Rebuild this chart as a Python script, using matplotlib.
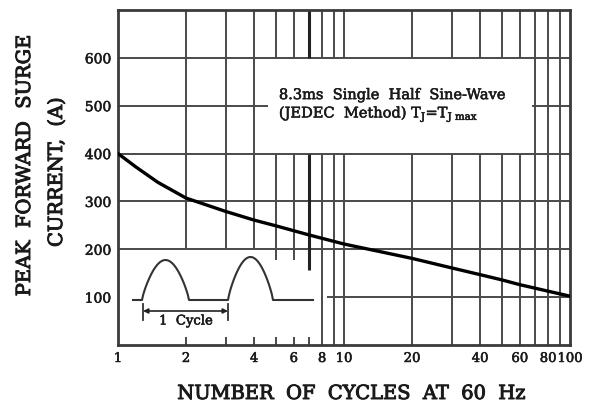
import numpy as np
import matplotlib
matplotlib.use("Agg")
import matplotlib.pyplot as plt
import matplotlib.patheffects as pe

# surge current curve
cycles = [1, 1.2, 1.5, 2, 3, 4, 5, 7, 10, 20, 30, 40, 50, 60, 100]
current = [400, 372, 340, 307, 279, 261, 249, 230, 211, 181, 161, 147, 136, 126, 102]

xtick_vals = [1, 2, 4, 6, 8, 10, 20, 40, 60, 80, 100]
xtick_labels = ["1", "2", "4", "6", "8", "10", "20", "40", "60", "80", "100"]
ytick_vals = [100, 200, 300, 400, 500, 600]

FONT = "DejaVu Serif"
GRID = "#4a4a4a"
INK = "#1a1a1a"
thick = [pe.withStroke(linewidth=0.7, foreground=INK)]

fig = plt.figure(figsize=(6, 4.09), dpi=100)
ax = fig.add_axes([118 / 600, 64 / 409, 452 / 600, 335 / 409])
ax.set_xscale("log")
ax.set_xlim(1, 100)
ax.set_ylim(0, 700)

# horizontal grid (some pieces are cut out by the note and the inset)
ax.hlines([200, 300, 400, 600], 1, 100, color=GRID, lw=1.4, zorder=1)
ax.hlines(500, 1, 4.61, color=GRID, lw=1.4, zorder=1)
ax.hlines(500, 67.9, 100, color=GRID, lw=1.4, zorder=1)
ax.hlines(100, 8.41, 100, color=GRID, lw=1.4, zorder=1)

# vertical grid
ax.vlines([2, 3, 4], 200, 700, color=GRID, lw=1.4, zorder=1)
ax.vlines([2, 3, 4, 5, 6, 7], 0, 17, color=GRID, lw=1.4, zorder=1)
ax.vlines([5, 6], 178, 400, color=GRID, lw=1.4, zorder=1)
ax.vlines([5, 6], 600, 700, color=GRID, lw=1.4, zorder=1)
ax.vlines(7, 157, 400, color="#222222", lw=2.2, zorder=1)
ax.vlines(7, 600, 700, color="#222222", lw=2.2, zorder=1)
gap_lines = [8, 9, 10, 20, 30, 40, 50, 60]
ax.vlines(gap_lines, 0, 400, color=GRID, lw=1.4, zorder=1)
ax.vlines(gap_lines, 600, 700, color=GRID, lw=1.4, zorder=1)
ax.vlines([70, 80, 90], 0, 700, color=GRID, lw=1.4, zorder=1)

# the curve
ax.plot(cycles, current, color="black", lw=2.4, zorder=3)

for s in ax.spines.values():
    s.set_linewidth(2)
    s.set_color("#3a3a3a")

ax.set_xticks(xtick_vals)
ax.set_xticklabels(xtick_labels, fontfamily=FONT, fontsize=9.5, color=INK)
ax.xaxis.set_minor_locator(matplotlib.ticker.NullLocator())
ax.tick_params(axis="x", length=0, pad=5)
ax.set_yticks(ytick_vals)
ax.set_yticklabels([str(v) for v in ytick_vals], fontfamily=FONT, fontsize=10, color=INK)
ax.tick_params(axis="y", length=0, pad=5)
ax.set_yticks([100], minor=True)
ax.tick_params(axis="y", which="minor", length=5, width=1.4, color=GRID)
for lab in ax.get_xticklabels() + ax.get_yticklabels():
    lab.set_path_effects([pe.withStroke(linewidth=0.4, foreground=INK)])

# note text
ax.text(0.356, 0.746, "8.3ms  Single  Half  Sine-Wave", transform=ax.transAxes,
        fontfamily=FONT, fontsize=10.5, va="center", ha="left", color=INK,
        path_effects=[pe.withStroke(linewidth=0.4, foreground=INK)])
ax.text(0.356, 0.690, r"(JEDEC  Method) T$_\mathregular{J}$=T$_\mathregular{J\ max}$",
        transform=ax.transAxes, fontfamily=FONT, fontsize=10.5,
        va="center", ha="left", color=INK,
        path_effects=[pe.withStroke(linewidth=0.4, foreground=INK)])

# inset waveform sketch (figure pixel space of the original)
def px(x, y):
    return np.asarray(x) / 600, 1 - np.asarray(y) / 409

base = 300
t = np.linspace(0, 1, 40)
h1x = 142 + 47 * t
h1y = base - 40 * np.sin(np.pi * t) ** 0.8
h2x = 228 + 45 * t
h2y = base - 43 * np.sin(np.pi * t) ** 0.8
wx = np.concatenate([[133], h1x, h2x, [313]])
wy = np.concatenate([[base], h1y, h2y, [base]])
fx, fy = px(wx, wy)
ax.plot(fx, fy, transform=fig.transFigure, color="#333333", lw=1.5, zorder=2)

for xx in (143, 228):
    fx, fy = px([xx, xx], [304, 320])
    ax.plot(fx, fy, transform=fig.transFigure, color="#333333", lw=1.3)
a0 = px(143, 311)
a1 = px(228, 311)
ax.annotate("", xy=a1, xytext=a0, xycoords="figure fraction", textcoords="figure fraction",
            arrowprops=dict(arrowstyle="<|-|>", color="#222222", lw=1.2,
                            mutation_scale=7, shrinkA=0, shrinkB=0))
cx, cy = px(186, 321)
fig.text(cx, cy, "1  Cycle", fontfamily=FONT, fontsize=9.5,
         ha="center", va="center", color=INK,
         path_effects=[pe.withStroke(linewidth=0.4, foreground=INK)])

# axis titles
fig.text(25 / 600, 1 - 165 / 409, "PEAK  FORWARD  SURGE", rotation=90, fontfamily=FONT,
         fontsize=14, ha="center", va="center", color=INK, path_effects=thick)
fig.text(57 / 600, 1 - 172 / 409, "CURRENT,  (A)", rotation=90, fontfamily=FONT,
         fontsize=14, ha="center", va="center", color=INK, path_effects=thick)
fig.text(352 / 600, 1 - 394 / 409, "NUMBER  OF  CYCLES  AT  60  Hz", fontfamily=FONT,
         fontsize=14, ha="center", va="center", color=INK, path_effects=thick)

fig.savefig("out.png", dpi=100)
